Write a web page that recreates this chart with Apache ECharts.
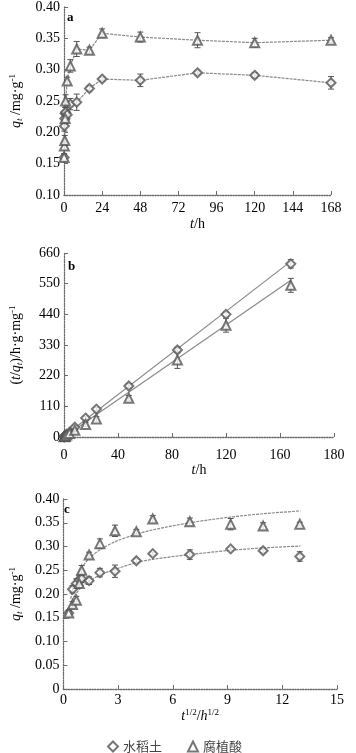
<!DOCTYPE html>
<html><head><meta charset="utf-8">
<script src="https://cdn.jsdelivr.net/npm/echarts@6/dist/echarts.min.js"></script>
<style>html,body{margin:0;padding:0;background:#fff}#c{width:356px;height:753px}</style>
</head><body><div id="c"></div>
<script>
// ---- data ----
const tHours = [0.083, 0.25, 0.5, 0.75, 1, 2, 4, 8, 16, 24, 48, 84, 120, 168];
const sqrtT = [0.29, 0.5, 0.71, 0.87, 1.0, 1.41, 2.0, 2.83, 4.0, 4.9, 6.93, 9.17, 10.95, 12.96];
const qtSoil = [0.160, 0.210, 0.222, 0.230, 0.232, 0.228, 0.245, 0.248, 0.270, 0.285, 0.283, 0.295, 0.291, 0.279];
const errSoil = [0.005, 0.008, 0.010, 0.010, 0.008, 0.008, 0.009, 0.013, 0.004, 0.003, 0.010, 0.003, 0.004, 0.010];
const qtHumic = [0.160, 0.178, 0.187, 0.222, 0.250, 0.282, 0.306, 0.333, 0.331, 0.358, 0.352, 0.347, 0.343, 0.347];
const errHumic = [0.006, 0.006, 0.008, 0.008, 0.010, 0.006, 0.010, 0.012, 0.005, 0.007, 0.008, 0.012, 0.007, 0.004];
const tqSoil = [0.5, 1.2, 2.3, 3.3, 4.3, 8.8, 16.3, 35, 68, 100, 183, 312, 440, 621];
const tqErrSoil = [0.5, 0.5, 1, 1, 1, 2, 3, 4, 6, 6, 8, 10, 8, 15];
const tqHumic = [0.5, 1.4, 2.7, 3.4, 4.0, 7.0, 13, 24, 45, 65, 139, 276, 401, 544];
const tqErrHumic = [0.5, 0.5, 1, 1, 1, 2, 3, 4, 8, 8, 10, 30, 25, 25];
const fitSoilB = [[0, 3], [168, 630]];
const fitHumicB = [[0, 0], [168, 562]];
const curveX = [0.4, 0.6, 0.8, 1.0, 1.41, 2.0, 2.83, 4.0, 4.9, 6.93, 9.17, 10.95, 13.0];
const curveSoilC = [0.180, 0.195, 0.206, 0.215, 0.227, 0.240, 0.252, 0.266, 0.273, 0.283, 0.292, 0.297, 0.301];
const curveHumicC = [0.190, 0.220, 0.240, 0.255, 0.275, 0.293, 0.310, 0.326, 0.335, 0.350, 0.362, 0.369, 0.375];
const xLabelsB = ['0', '40', '80', '120', '160', '180'];
const names = ['水稻土', '腐植酸'];

// ---- chart ----
const serif = 'Liberation Serif';
const axisColor = '#6a6a6a';
const markColor = '#555';
const lineColor = '#8a8a8a';
function zip(xs, ys) { return xs.map((x, i) => [x, ys[i]]); }
function zip3(xs, ys, es) { return xs.map((x, i) => [x, ys[i], es[i]]); }
const richName = {
  i: {fontFamily: serif, fontStyle: 'italic', fontSize: 14, lineHeight: 16, color: '#000'},
  n: {fontFamily: serif, fontSize: 14, lineHeight: 16, color: '#000'},
  s: {fontFamily: serif, fontStyle: 'italic', fontSize: 9, lineHeight: 9, verticalAlign: 'bottom', color: '#000'},
  p: {fontFamily: serif, fontSize: 9, lineHeight: 9, verticalAlign: 'top', color: '#000'}
};
function baseAxis(extra) {
  return Object.assign({
    axisLine: {show: true, onZero: false, lineStyle: {color: axisColor, width: 1.3, type: 'dotted'}},
    axisTick: {show: true, inside: true, length: 4, lineStyle: {color: axisColor}},
    splitLine: {show: false},
    axisLabel: {fontFamily: serif, fontSize: 14, color: '#000'},
    nameLocation: 'middle',
    nameTextStyle: {rich: richName}
  }, extra);
}
function errSeries(xi, yi, data, half) {
  return {
    type: 'custom', xAxisIndex: xi, yAxisIndex: yi, z: 2, silent: true,
    data: data,
    renderItem: function (params, api) {
      const x = api.value(0), y = api.value(1), e = api.value(2);
      const top = api.coord([x, y + e]);
      const bot = api.coord([x, y - e]);
      const st = {stroke: markColor, lineWidth: 1};
      return {type: 'group', children: [
        {type: 'line', shape: {x1: top[0], y1: top[1], x2: bot[0], y2: bot[1]}, style: st},
        {type: 'line', shape: {x1: top[0] - half, y1: top[1], x2: top[0] + half, y2: top[1]}, style: st},
        {type: 'line', shape: {x1: bot[0] - half, y1: bot[1], x2: bot[0] + half, y2: bot[1]}, style: st}
      ]};
    }
  };
}
function scatter(name, xi, yi, data, sym) {
  return {type: 'scatter', name: name, xAxisIndex: xi, yAxisIndex: yi, z: 4,
    symbol: sym, symbolSize: 9, data: data,
    itemStyle: {color: markColor, borderWidth: 1.3}};
}
function line(xi, yi, data, dashed, smooth) {
  return {type: 'line', xAxisIndex: xi, yAxisIndex: yi, z: 1, symbol: 'none', smooth: smooth ? 0.3 : false,
    data: data, silent: true,
    lineStyle: {color: lineColor, width: 1.2, type: dashed ? [3, 1] : 'solid'}};
}

const option = {
  animation: false,
  grid: [
    {left: 56, top: 7, width: 275, height: 188},
    {left: 55, top: 253, width: 279, height: 184},
    {left: 51, top: 499, width: 286, height: 190}
  ],
  xAxis: [
    baseAxis({gridIndex: 0, type: 'value', min: 0, max: 168, interval: 24,
      axisLabel: {fontFamily: serif, fontSize: 14, color: '#000', margin: 6},
      name: '{i|t}{n|/h}', nameGap: 21}),
    baseAxis({gridIndex: 1, type: 'value', min: 0, max: 200, interval: 40,
      axisLabel: {fontFamily: serif, fontSize: 14, color: '#000', margin: 11,
        formatter: (v) => xLabelsB[Math.round(v / 40)]},
      name: '{i|t}{n|/h}', nameGap: 24}),
    baseAxis({gridIndex: 2, type: 'value', min: 0, max: 15, interval: 3,
      axisLabel: {fontFamily: serif, fontSize: 14, color: '#000', margin: 4},
      name: '{i|t}{p|1/2}{n|/}{i|h}{p|1/2}', nameGap: 18})
  ],
  yAxis: [
    baseAxis({gridIndex: 0, type: 'value', min: 0.10, max: 0.40, interval: 0.05,
      axisLabel: {fontFamily: serif, fontSize: 14, color: '#000', margin: 4, formatter: (v) => v.toFixed(2)},
      name: '{i|q}{s|t}{n| /mg·g}{p|-1}', nameGap: 40, nameRotate: 90}),
    baseAxis({gridIndex: 1, type: 'value', min: 0, max: 660, interval: 110,
      axisLabel: {fontFamily: serif, fontSize: 14, color: '#000', margin: 4},
      name: '{n|(}{i|t}{n|/}{i|q}{s|t}{n|)/h·g·mg}{p|-1}', nameGap: 40, nameRotate: 90}),
    baseAxis({gridIndex: 2, type: 'value', min: 0, max: 0.40, interval: 0.05,
      axisLabel: {fontFamily: serif, fontSize: 14, color: '#000', margin: 4,
        formatter: (v) => v === 0 ? '0' : v.toFixed(2)},
      name: '{i|q}{s|t}{n| /mg·g}{p|-1}', nameGap: 35, nameRotate: 90})
  ],
  legend: {
    data: names, left: 102, top: 735, itemWidth: 10, itemHeight: 10, itemGap: 25,
    textStyle: {fontFamily: 'Noto Sans CJK SC', fontSize: 13, color: '#444'}
  },
  graphic: [
    {type: 'text', left: 67, top: 11, style: {text: 'a', font: 'bold 13px "Liberation Serif"', fill: '#000'}},
    {type: 'text', left: 68, top: 260, style: {text: 'b', font: 'bold 13px "Liberation Serif"', fill: '#000'}},
    {type: 'text', left: 64, top: 503, style: {text: 'c', font: 'bold 13px "Liberation Serif"', fill: '#000'}}
  ],
  series: [
    scatter(names[0], 0, 0, zip(tHours, qtSoil), 'emptyDiamond'),
    scatter(names[1], 0, 0, zip(tHours, qtHumic), 'emptyTriangle'),
    line(0, 0, zip(tHours, qtSoil), true, false),
    line(0, 0, zip(tHours, qtHumic), true, false),
    errSeries(0, 0, zip3(tHours, qtSoil, errSoil), 3),
    errSeries(0, 0, zip3(tHours, qtHumic, errHumic), 3),

    scatter(names[0], 1, 1, zip(tHours, tqSoil), 'emptyDiamond'),
    scatter(names[1], 1, 1, zip(tHours, tqHumic), 'emptyTriangle'),
    line(1, 1, fitSoilB, false, false),
    line(1, 1, fitHumicB, false, false),
    errSeries(1, 1, zip3(tHours, tqSoil, tqErrSoil), 3),
    errSeries(1, 1, zip3(tHours, tqHumic, tqErrHumic), 3),

    scatter(names[0], 2, 2, zip(sqrtT, qtSoil), 'emptyDiamond'),
    scatter(names[1], 2, 2, zip(sqrtT, qtHumic), 'emptyTriangle'),
    line(2, 2, zip(curveX, curveSoilC), true, true),
    line(2, 2, zip(curveX, curveHumicC), true, true),
    errSeries(2, 2, zip3(sqrtT, qtSoil, errSoil), 3),
    errSeries(2, 2, zip3(sqrtT, qtHumic, errHumic), 3)
  ]
};
const chart = echarts.init(document.getElementById('c'), null, {renderer: 'canvas'});
chart.setOption(option);
</script>
</body></html>
